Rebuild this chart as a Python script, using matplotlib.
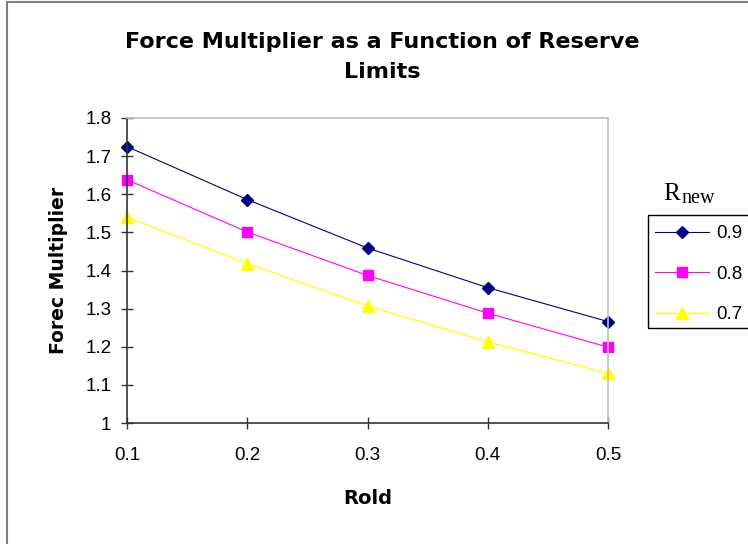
import numpy as np
import matplotlib
matplotlib.use("Agg")
import matplotlib.pyplot as plt
from matplotlib.patches import Rectangle

# data
r_old = [0.1, 0.2, 0.3, 0.4, 0.5]
fm_09 = [1.725, 1.586, 1.459, 1.355, 1.266]
fm_08 = [1.638, 1.501, 1.387, 1.288, 1.199]
fm_07 = [1.540, 1.418, 1.307, 1.213, 1.130]
series_labels = ["0.9", "0.8", "0.7"]
y_ticks = [1, 1.1, 1.2, 1.3, 1.4, 1.5, 1.6, 1.7, 1.8]
y_tick_labels = ["1", "1.1", "1.2", "1.3", "1.4", "1.5", "1.6", "1.7", "1.8"]

W, H = 748, 544
plt.rcParams['font.family'] = ['Liberation Sans', 'DejaVu Sans']
fig = plt.figure(figsize=(W / 100, H / 100), dpi=100)

# plot area in pixels: x 127..608, y 118..423
ax = fig.add_axes([127 / W, 1 - 423 / H, (608 - 127) / W, (423 - 118) / H])

ax.plot(r_old, fm_09, color='#000080', lw=0.8, marker='D', ms=6.5, label=series_labels[0])
ax.plot(r_old, fm_08, color='#FF00FF', lw=0.8, marker='s', ms=7.8, label=series_labels[1])
ax.plot(r_old, fm_07, color='#FFFF00', lw=0.9, marker='^', ms=8.5, label=series_labels[2])

ax.set_xlim(0.1, 0.5)
ax.set_ylim(1, 1.8)
ax.set_xticks(r_old)
ax.set_xticklabels([str(v) for v in r_old], fontsize=13.5)
ax.set_yticks(y_ticks)
ax.set_yticklabels(y_tick_labels, fontsize=13.5)
ax.tick_params(direction='inout', length=8.5, width=1, colors='#333333', labelcolor='black')
ax.tick_params(axis='x', pad=13)
ax.tick_params(axis='y', pad=7)
for p in ax.get_lines():
    p.set_clip_on(False)

ax.spines['left'].set_color('#333333')
ax.spines['bottom'].set_color('#333333')
ax.spines['top'].set_color('#c0c0c0')
ax.spines['right'].set_color('#c0c0c0')
for s in ax.spines.values():
    s.set_linewidth(1.2)

bold_font = ['DejaVu Sans']
ax.set_xlabel("Rold", fontsize=14, fontweight='bold', va='center', family=bold_font)
ax.xaxis.set_label_coords(0.5, (423 - 498) / 305)
ax.set_ylabel("Forec Multiplier", fontsize=13.5, fontweight='bold', va='center', family=bold_font)
ax.yaxis.set_label_coords((58 - 127) / 481, (423 - 270) / 305)

fig.text(382 / W, 1 - 42 / H, "Force Multiplier as a Function of Reserve",
         fontsize=16, fontweight='bold', ha='center', va='center', family=bold_font)
fig.text(382 / W, 1 - 72 / H, "Limits", fontsize=16, fontweight='bold',
         ha='center', va='center', family=bold_font)

# outer chart frame
fig.patches.append(Rectangle((7 / W, -0.1), 1.2, 1 - 2 / H + 0.1, transform=fig.transFigure,
                             fill=False, edgecolor='#808080', lw=1.5))

# legend box, cut at the right edge like the reference
fig.patches.append(Rectangle((648 / W, 1 - 328 / H), 0.3, (328 - 215) / H,
                             transform=fig.transFigure, fill=False, edgecolor='black', lw=1))
fig.text(663 / W, 1 - 200 / H, "R", family='Liberation Serif', fontsize=18,
         ha='left', va='baseline')
fig.text(681 / W, 1 - 203 / H, "new", family='Liberation Serif', fontsize=14.5,
         ha='left', va='baseline')
fig.legend(loc='upper left', bbox_to_anchor=(655 / W, 1 - 225 / H), frameon=False,
           fontsize=13.5, handlelength=2.9, handletextpad=0.35, labelspacing=1.25,
           borderpad=0, borderaxespad=0)

fig.savefig("out.png", dpi=100)
